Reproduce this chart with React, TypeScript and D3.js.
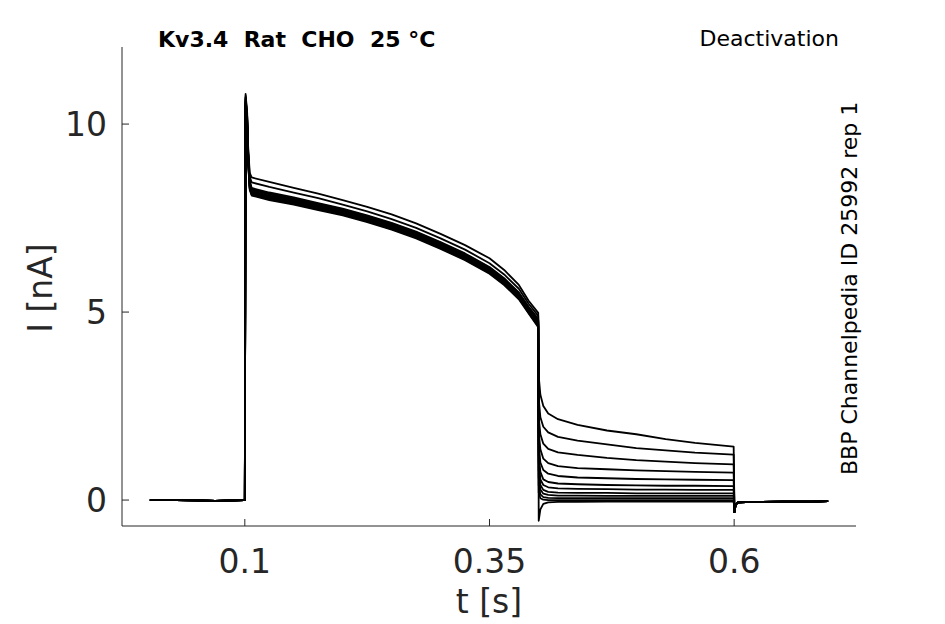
import * as d3 from 'd3';

// time bases [s]
const preTimes = [0.003, 0.03, 0.05, 0.07, 0.0995, 0.1];
const preCurrent = [0, 0, -0.01, -0.02, 0, 0];

const stepTimes = [0.1008, 0.1024, 0.1034, 0.105, 0.107, 0.125, 0.15, 0.175, 0.2, 0.225, 0.25, 0.275, 0.3, 0.325, 0.35, 0.365, 0.38, 0.39, 0.3998];
const stepCurrents = [
  [10.8, 10.3, 9.4, 8.7, 8.58, 8.46, 8.3, 8.15, 7.98, 7.8, 7.6, 7.36, 7.08, 6.78, 6.43, 6.12, 5.72, 5.3, 4.98],
  [10.75, 10.2, 9.3, 8.6, 8.45, 8.33, 8.18, 8.03, 7.86, 7.68, 7.47, 7.24, 6.96, 6.66, 6.3, 6.0, 5.62, 5.22, 4.9],
  [10.7, 10.2, 9.25, 8.5, 8.3, 8.18, 8.05, 7.9, 7.75, 7.57, 7.37, 7.14, 6.86, 6.56, 6.2, 5.9, 5.52, 5.14, 4.82],
  [10.7, 10.15, 9.2, 8.45, 8.27, 8.15, 8.02, 7.88, 7.73, 7.55, 7.35, 7.12, 6.84, 6.54, 6.18, 5.88, 5.5, 5.12, 4.79],
  [10.65, 10.1, 9.2, 8.42, 8.25, 8.13, 8.0, 7.85, 7.71, 7.53, 7.33, 7.1, 6.82, 6.52, 6.16, 5.86, 5.48, 5.1, 4.77],
  [10.65, 10.1, 9.15, 8.4, 8.22, 8.1, 7.98, 7.83, 7.69, 7.51, 7.31, 7.08, 6.8, 6.5, 6.14, 5.84, 5.46, 5.08, 4.74],
  [10.6, 10.05, 9.1, 8.38, 8.2, 8.08, 7.96, 7.81, 7.67, 7.49, 7.29, 7.06, 6.78, 6.48, 6.12, 5.82, 5.44, 5.06, 4.72],
  [10.6, 10.0, 9.1, 8.35, 8.18, 8.06, 7.94, 7.79, 7.65, 7.47, 7.27, 7.04, 6.76, 6.46, 6.1, 5.8, 5.42, 5.04, 4.69],
  [10.55, 10.0, 9.05, 8.32, 8.16, 8.04, 7.92, 7.77, 7.63, 7.45, 7.25, 7.02, 6.74, 6.44, 6.08, 5.78, 5.4, 5.02, 4.67],
  [10.55, 9.95, 9.0, 8.3, 8.14, 8.02, 7.9, 7.75, 7.61, 7.43, 7.23, 7.0, 6.72, 6.42, 6.06, 5.76, 5.38, 5.0, 4.64],
  [10.5, 9.9, 9.0, 8.28, 8.12, 8.0, 7.88, 7.73, 7.59, 7.41, 7.21, 6.98, 6.7, 6.4, 6.04, 5.74, 5.36, 4.98, 4.62],
  [10.5, 9.9, 8.95, 8.25, 8.1, 7.98, 7.86, 7.71, 7.57, 7.39, 7.19, 6.96, 6.68, 6.38, 6.02, 5.72, 5.34, 4.96, 4.6],
];

const tailTimes = [0.4003, 0.402, 0.405, 0.41, 0.42, 0.44, 0.47, 0.5, 0.53, 0.56, 0.5995];
const tailCurrents = [
  [3.3, 2.8, 2.5, 2.3, 2.15, 2.0, 1.85, 1.75, 1.62, 1.52, 1.42],
  [2.7, 2.2, 1.95, 1.8, 1.68, 1.58, 1.48, 1.38, 1.32, 1.26, 1.21],
  [2.2, 1.75, 1.5, 1.36, 1.27, 1.2, 1.12, 1.06, 1.02, 0.98, 0.95],
  [1.8, 1.35, 1.1, 0.98, 0.9, 0.85, 0.82, 0.79, 0.77, 0.75, 0.73],
  [1.5, 1.0, 0.8, 0.7, 0.64, 0.6, 0.58, 0.56, 0.55, 0.54, 0.53],
  [1.2, 0.75, 0.55, 0.48, 0.44, 0.42, 0.4, 0.39, 0.38, 0.38, 0.37],
  [1.0, 0.55, 0.4, 0.34, 0.31, 0.3, 0.29, 0.28, 0.28, 0.27, 0.27],
  [0.8, 0.4, 0.27, 0.22, 0.2, 0.19, 0.19, 0.18, 0.18, 0.18, 0.18],
  [0.6, 0.28, 0.17, 0.14, 0.12, 0.12, 0.11, 0.11, 0.11, 0.11, 0.11],
  [0.4, 0.15, 0.08, 0.06, 0.05, 0.05, 0.05, 0.05, 0.05, 0.05, 0.05],
  [0.2, 0.05, 0.01, 0.0, 0.0, 0.0, 0.0, 0.0, 0.0, 0.0, 0.0],
  [-0.55, -0.25, -0.1, -0.06, -0.05, -0.05, -0.04, -0.04, -0.04, -0.04, -0.04],
];

const postTimes = [0.6003, 0.6015, 0.604, 0.62, 0.65, 0.68, 0.696];
const postCurrent = [-0.32, -0.12, -0.06, -0.05, -0.04, -0.04, -0.03];

const xTicks = [0.1, 0.35, 0.6];
const xTickLabels = ['0.1', '0.35', '0.6'];
const yTicks = [0, 5, 10];
const yTickLabels = ['0', '5', '10'];

const title = 'Kv3.4\u00a0\u00a0Rat\u00a0\u00a0CHO\u00a0\u00a025 °C';
const protocol = 'Deactivation';
const sourceNote = 'BBP Channelpedia ID 25992 rep 1';

const W = 945;
const H = 624;
const left = 122;
const right = 856;
const top = 47;
const bottom = 526;
const axisColor = '#262626';
const font = 'DejaVu Sans, sans-serif';

export default function App() {
  const x = d3.scaleLinear().domain([-0.0255, 0.7245]).range([left, right]);
  const y = d3.scaleLinear().domain([-0.69, 12.05]).range([bottom, top]);

  const line = d3
    .line<[number, number]>()
    .x((d) => x(d[0]))
    .y((d) => y(d[1]));

  const traces = stepCurrents.map((step, i) => {
    const pts: [number, number][] = [];
    preTimes.forEach((t, j) => pts.push([t, preCurrent[j]]));
    stepTimes.forEach((t, j) => pts.push([t, step[j]]));
    tailTimes.forEach((t, j) => pts.push([t, tailCurrents[i][j]]));
    postTimes.forEach((t, j) => pts.push([t, postCurrent[j]]));
    return pts;
  });

  return (
    <svg
      width={W}
      height={H}
      style={{ position: 'absolute', left: 0, top: 0, background: '#fff' }}
      fontFamily={font}
    >
      {/* traces */}
      <g fill="none" stroke="#000" strokeWidth={1.8} strokeLinejoin="round">
        {traces.map((pts, i) => (
          <path key={i} d={line(pts) as string} />
        ))}
      </g>

      {/* axes */}
      <g stroke={axisColor} strokeWidth={1} fill="none">
        <line x1={left} x2={left} y1={top} y2={bottom} />
        <line x1={left} x2={right} y1={bottom} y2={bottom} />
        {yTicks.map((v) => (
          <line key={'yt' + v} x1={left} x2={left + 7} y1={y(v)} y2={y(v)} />
        ))}
        {xTicks.map((v) => (
          <line key={'xt' + v} x1={x(v)} x2={x(v)} y1={bottom} y2={bottom - 7} />
        ))}
      </g>

      <g fill={axisColor} fontSize={33}>
        {yTicks.map((v, i) => (
          <text key={'yl' + v} x={left - 15} y={y(v)} dy="0.36em" textAnchor="end">
            {yTickLabels[i]}
          </text>
        ))}
        {xTicks.map((v, i) => (
          <text key={'xl' + v} x={x(v)} y={573} textAnchor="middle">
            {xTickLabels[i]}
          </text>
        ))}
        <text x={(left + right) / 2} y={613} textAnchor="middle">
          t [s]
        </text>
        <text transform={`translate(52, 288) rotate(-90)`} textAnchor="middle">
          I [nA]
        </text>
      </g>

      <text x={158} y={47} fontSize={22} fontWeight="bold" fill="#000">
        {title}
      </text>
      <text x={839} y={46} fontSize={22} textAnchor="end" fill="#000">
        {protocol}
      </text>
      <text
        transform="translate(857, 475) rotate(-90)"
        fontSize={22}
        fill="#000"
      >
        {sourceNote}
      </text>
    </svg>
  );
}
